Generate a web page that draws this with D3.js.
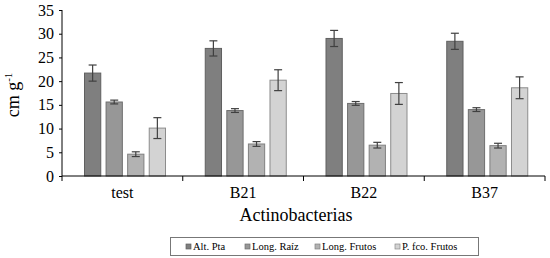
<!DOCTYPE html>
<html><head><meta charset="utf-8">
<script src="https://cdn.jsdelivr.net/npm/d3@7"></script>
<style>body{margin:0;background:#fff}svg{display:block}svg text{font-family:'Liberation Serif',serif !important}</style>
</head><body><svg id="c" width="550" height="258"></svg>
<script>
const categories = ["test","B21","B22","B37"];
const seriesNames = ["Alt. Pta","Long. Raiz","Long. Frutos","P. fco. Frutos"];
const altPta = [21.7,26.9,29.0,28.4];
const longRaiz = [15.6,13.8,15.3,14.0];
const longFrutos = [4.6,6.75,6.5,6.4];
const pFcoFrutos = [10.1,20.2,17.4,18.6];
const errAltPta = [1.7,1.6,1.7,1.7];
const errLongRaiz = [0.4,0.4,0.4,0.4];
const errLongFrutos = [0.5,0.5,0.6,0.5];
const errPFco = [2.2,2.2,2.3,2.3];
const yTicks = [0,5,10,15,20,25,30,35];
const legendLabels = ["Alt. Pta","Long. Raíz","Long. Frutos","P. fco. Frutos"];

const values = [altPta,longRaiz,longFrutos,pFcoFrutos];
const errs = [errAltPta,errLongRaiz,errLongFrutos,errPFco];
const fills = ["#7f7f7f","#979797","#b2b2b2","#d3d3d3"];
const strokes = ["#606060","#6e6e6e","#808080","#8c8c8c"];

const svg = d3.select("#c");
const x0 = d3.scaleBand().domain(categories).range([62,545]).paddingInner(0).paddingOuter(0);
const x1 = d3.scaleBand().domain(d3.range(4)).range([22, 104]).paddingInner(0.2).paddingOuter(0);
const y = d3.scaleLinear().domain([0,35]).range([176,10]);

// y axis
const ya = svg.append("g").attr("transform","translate(62,0)")
  .call(d3.axisLeft(y).tickValues(yTicks).tickSize(3).tickPadding(5));
ya.attr("font-family",null);
ya.select(".domain").attr("stroke","#000").attr("d","M0,10V176");
ya.selectAll(".tick line").attr("stroke","#000");
ya.selectAll("text").attr("font-size",16).attr("fill","#000");

// bars
categories.forEach((c,i)=>{
  const g = svg.append("g").attr("transform",`translate(${x0(c)},0)`);
  values.forEach((s,j)=>{
    const bx = x1(j);
    g.append("rect").attr("x",bx+0.5).attr("y",y(s[i])).attr("width",x1.bandwidth()-1)
      .attr("height",y(0)-y(s[i])).attr("fill",fills[j]).attr("stroke",strokes[j]).attr("stroke-width",1);
    const cx = bx + x1.bandwidth()/2;
    const hi = y(s[i]+errs[j][i]), lo = y(s[i]-errs[j][i]);
    const eg = g.append("g").attr("stroke","#404040").attr("stroke-width",1.2);
    eg.append("line").attr("x1",cx).attr("x2",cx).attr("y1",hi).attr("y2",lo);
    eg.append("line").attr("x1",cx-4).attr("x2",cx+4).attr("y1",hi).attr("y2",hi);
    eg.append("line").attr("x1",cx-4).attr("x2",cx+4).attr("y1",lo).attr("y2",lo);
  });
});

// x axis
const xa = svg.append("g").attr("transform","translate(0,176)")
  .call(d3.axisBottom(x0).tickSize(0).tickPadding(11));
xa.attr("font-family",null);
xa.select(".domain").attr("stroke","#000").attr("d","M62,0H545");
xa.selectAll("text").attr("font-size",16).attr("fill","#000");
// boundary ticks
const bounds = categories.map(c=>x0(c)).concat([x0(categories[3])+x0.bandwidth()]);
svg.append("g").selectAll("line").data(bounds).join("line")
  .attr("x1",d=>d).attr("x2",d=>d).attr("y1",176).attr("y2",181).attr("stroke","#000");

// axis titles
svg.append("text").attr("x",296).attr("y",221).attr("text-anchor","middle").attr("font-size",18).text("Actinobacterias");
const yl = svg.append("text").attr("transform","translate(19,95) rotate(-90)").attr("text-anchor","middle").attr("font-size",18);
yl.append("tspan").text("cm g");
yl.append("tspan").attr("font-size",11).attr("dy",-7).text("-1");

// legend
svg.append("rect").attr("x",170.5).attr("y",237.5).attr("width",308).attr("height",18).attr("fill","#fff").attr("stroke","#777");
const lx = [188,247,317,397];
legendLabels.forEach((t,j)=>{
  svg.append("rect").attr("x",lx[j]-2).attr("y",244).attr("width",5).attr("height",5).attr("fill",fills[j]).attr("stroke",strokes[j]).attr("stroke-width",0.7);
  svg.append("text").attr("x",lx[j]+5).attr("y",250).attr("font-size",10.5).text(t);
});
</script></body></html>
